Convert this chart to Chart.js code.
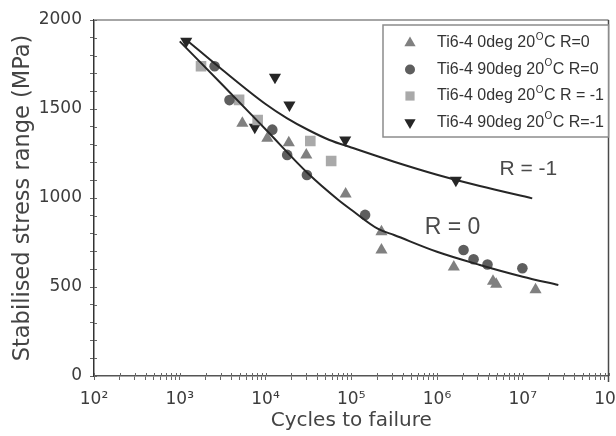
<!DOCTYPE html>
<html>
<head>
<meta charset="utf-8">
<script src="https://cdn.jsdelivr.net/npm/chart.js@4/dist/chart.umd.min.js"></script>
<style>
  html, body { margin: 0; padding: 0; background: #fff; }
  #wrap { width: 616px; height: 436px; }
</style>
</head>
<body>
<div id="wrap"><canvas id="c" width="616" height="436"></canvas></div>
<script>
// Fatigue test results, Ti6-4 at 20 °C: cycles to failure vs stabilised stress range (MPa)
const seriesLabels = [
  'Ti6-4 0deg 20°C R=0',
  'Ti6-4 90deg 20°C R=0',
  'Ti6-4 0deg 20°C R = -1',
  'Ti6-4 90deg 20°C R=-1'
];

const cycles0degR0 = [5370, 10500, 18700, 29900, 86000, 225000, 225000, 1570000, 4500000, 4900000, 14100000];
const stress0degR0 = [1420, 1335, 1311, 1242, 1022, 811, 708, 612, 532, 515, 485];

const cycles90degR0 = [2550, 3800, 12000, 17900, 30400, 145000, 2040000, 2670000, 3880000, 9900000];
const stress90degR0 = [1740, 1550, 1384, 1242, 1129, 905, 708, 656, 626, 605];

const cycles0degRm1 = [1770, 4920, 8100, 33300, 58300];
const stress0degRm1 = [1740, 1551, 1438, 1320, 1208];

const cycles90degRm1 = [1190, 7500, 12900, 19000, 85000, 1660000];
const stress90degRm1 = [1880, 1398, 1678, 1522, 1326, 1100];

// Trend curves drawn through the two data groups
const curveR0Cycles = [1000, 3160, 10000, 31600, 70800, 100000, 206000, 316000, 1000000, 3160000, 10000000, 26000000];
const curveR0Stress = [1880, 1635, 1386, 1136, 989, 934, 826, 792, 698, 624, 558, 511];

const curveRm1Cycles = [1200, 3160, 10000, 17700, 31600, 55700, 100000, 316000, 1000000, 3160000, 12900000];
const curveRm1Stress = [1888, 1719, 1528, 1449, 1382, 1326, 1284, 1204, 1131, 1067, 998];

const curveLabels = ['R = 0', 'R = -1'];
const curveLabelAt = [[7.2e5, 831], [5.35e6, 1163]];

const xDecades = [2, 3, 4, 5, 6, 7, 8];
const superDigits = { 2: '²', 3: '³', 4: '⁴', 5: '⁵', 6: '⁶', 7: '⁷', 8: '⁸' };
const yTickStep = 100;
const yLabelStep = 500;

const pts = (xs, ys) => xs.map((x, i) => ({ x: x, y: ys[i] }));

const TEXT = '#3c3c3c';

function markerDataset(label, xs, ys, style, color, radius, rotation) {
  return {
    label: label,
    data: pts(xs, ys),
    pointStyle: style,
    pointRotation: rotation || 0,
    pointRadius: radius,
    pointHoverRadius: radius,
    backgroundColor: color,
    borderColor: color,
    borderWidth: 0,
    showLine: false,
    isMarker: true
  };
}

function curveDataset(label, xs, ys) {
  return {
    label: label,
    data: pts(xs, ys),
    showLine: true,
    pointRadius: 0,
    borderColor: '#262626',
    borderWidth: 2,
    backgroundColor: '#262626',
    cubicInterpolationMode: 'monotone',
    fill: false,
    isMarker: false
  };
}

// Frame, crossing tick stubs, curve labels and the boxed legend
const decorPlugin = {
  id: 'decor',
  beforeDatasetsDraw(chart) {
    const { ctx, chartArea: a } = chart;
    ctx.save();
    ctx.strokeStyle = '#a6a6a6';
    ctx.lineWidth = 2;
    ctx.beginPath();
    ctx.moveTo(a.left, a.top);
    ctx.lineTo(a.right, a.top);
    ctx.stroke();
    ctx.strokeStyle = '#4a4a4a';
    ctx.lineWidth = 1.5;
    ctx.beginPath();
    ctx.moveTo(a.right, a.top);
    ctx.lineTo(a.right, a.bottom + 6);
    ctx.stroke();
    // inner half of each tick so the marks cross the axes
    ctx.strokeStyle = '#666';
    ctx.lineWidth = 1;
    const ys = chart.scales.y, xs = chart.scales.x;
    ys.ticks.forEach((t, i) => {
      const p = Math.round(ys.getPixelForTick(i)) + 0.5;
      ctx.beginPath(); ctx.moveTo(a.left, p); ctx.lineTo(a.left + 3, p); ctx.stroke();
    });
    xs.ticks.forEach((t, i) => {
      const p = Math.round(xs.getPixelForTick(i)) + 0.5;
      ctx.beginPath(); ctx.moveTo(p, a.bottom); ctx.lineTo(p, a.bottom - 3); ctx.stroke();
    });
    ctx.restore();
  },
  afterDatasetsDraw(chart) {
    const { ctx, chartArea: a } = chart;
    const xs = chart.scales.x, ys = chart.scales.y;
    ctx.save();
    // curve labels
    ctx.fillStyle = '#4a4a4a';
    ctx.textAlign = 'left';
    ctx.textBaseline = 'middle';
    const sizes = [23, 21];
    curveLabels.forEach((txt, i) => {
      ctx.font = sizes[i] + 'px "Liberation Sans", Arial, sans-serif';
      ctx.fillText(txt, xs.getPixelForValue(curveLabelAt[i][0]), ys.getPixelForValue(curveLabelAt[i][1]));
    });

    // legend box
    const boxL = 383, boxT = a.top + 5, boxR = a.right, boxB = a.top + 117;
    ctx.fillStyle = '#fff';
    ctx.fillRect(boxL, boxT, boxR - boxL, boxB - boxT);
    ctx.strokeStyle = '#8c8c8c';
    ctx.lineWidth = 1.5;
    ctx.strokeRect(boxL, boxT, boxR - boxL, boxB - boxT);

    const markers = chart.data.datasets.filter(d => d.isMarker);
    markers.forEach((d, i) => {
      const cy = boxT + 18 + i * 26.5;
      ctx.fillStyle = d.backgroundColor;
      ctx.strokeStyle = d.backgroundColor;
      Chart.helpers.drawPoint(ctx, {
        pointStyle: d.pointStyle,
        rotation: d.pointRotation,
        radius: d.pointStyle === 'rect' ? 6.5 : (d.pointStyle === 'circle' ? 5 : 6.5),
        borderWidth: 0
      }, 410, cy);

      const parts = d.label.split('°');
      let x = 437;
      ctx.fillStyle = '#333';
      ctx.textBaseline = 'middle';
      ctx.font = '16px "Liberation Sans", Arial, sans-serif';
      ctx.fillText(parts[0], x, cy);
      x += ctx.measureText(parts[0]).width;
      ctx.font = '10px "Liberation Sans", Arial, sans-serif';
      ctx.fillText('O', x + 0.5, cy - 6);
      x += ctx.measureText('O').width + 1;
      ctx.font = '16px "Liberation Sans", Arial, sans-serif';
      ctx.fillText(parts[1], x, cy);
    });
    ctx.restore();
  }
};

const chart = new Chart(document.getElementById('c'), {
  type: 'scatter',
  data: {
    datasets: [
      curveDataset(curveLabels[0], curveR0Cycles, curveR0Stress),
      curveDataset(curveLabels[1], curveRm1Cycles, curveRm1Stress),
      markerDataset(seriesLabels[0], cycles0degR0, stress0degR0, 'triangle', '#808080', 7, 0),
      markerDataset(seriesLabels[1], cycles90degR0, stress90degR0, 'circle', '#5e5e5e', 5.3, 0),
      markerDataset(seriesLabels[2], cycles0degRm1, stress0degRm1, 'rect', '#a9a9a9', 7.5, 0),
      markerDataset(seriesLabels[3], cycles90degRm1, stress90degRm1, 'triangle', '#262626', 7, 180)
    ]
  },
  options: {
    responsive: false,
    animation: false,
    devicePixelRatio: 1,
    layout: { padding: { left: 0, right: 4, top: 20, bottom: 0 } },
    plugins: { legend: { display: false }, tooltip: { enabled: false } },
    scales: {
      x: {
        type: 'logarithmic',
        min: Math.pow(10, xDecades[0]),
        max: Math.pow(10, xDecades[xDecades.length - 1]),
        afterBuildTicks(scale) {
          const ticks = [];
          xDecades.forEach((e, i) => {
            const steps = i === xDecades.length - 1 ? [1] : [1, 2, 3, 4, 5, 6, 7, 8, 9];
            steps.forEach(k => ticks.push({ value: k * Math.pow(10, e) }));
          });
          scale.ticks = ticks;
        },
        afterFit(scale) {
          scale.height = 60;
          scale.paddingLeft = 0;
          scale.paddingRight = 0;
        },
        ticks: {
          autoSkip: false,
          maxRotation: 0,
          padding: 9,
          color: TEXT,
          font: { family: '"DejaVu Sans", sans-serif', size: 17 },
          callback(value) {
            const e = Math.round(Math.log10(value));
            return Math.abs(value - Math.pow(10, e)) < 1e-6 * value ? '10' + superDigits[e] : '';
          }
        },
        grid: { display: true, drawOnChartArea: false, drawTicks: true, tickLength: 4, color: '#666' },
        border: { display: true, color: '#555', width: 1.5 },
        title: {
          display: true,
          text: 'Cycles to failure',
          color: '#444',
          font: { family: '"DejaVu Sans", sans-serif', size: 20 },
          padding: { top: 0, bottom: 3 }
        }
      },
      y: {
        min: 0,
        max: 2000,
        afterFit(scale) {
          scale.width = 94;
          scale.paddingTop = 0;
          scale.paddingBottom = 0;
        },
        ticks: {
          stepSize: yTickStep,
          autoSkip: false,
          padding: 8,
          color: TEXT,
          font: { family: '"DejaVu Sans", sans-serif', size: 17 },
          callback(value) { return value % yLabelStep === 0 ? String(value) : ''; }
        },
        grid: { display: true, drawOnChartArea: false, drawTicks: true, tickLength: 4, color: '#666' },
        border: { display: true, color: '#333', width: 1.5 },
        title: {
          display: true,
          text: 'Stabilised stress range (MPa)',
          color: '#444',
          font: { family: '"DejaVu Sans", sans-serif', size: 22.5 },
          padding: { top: 10, bottom: 0 }
        }
      }
    }
  },
  plugins: [decorPlugin]
});
</script>
</body>
</html>
